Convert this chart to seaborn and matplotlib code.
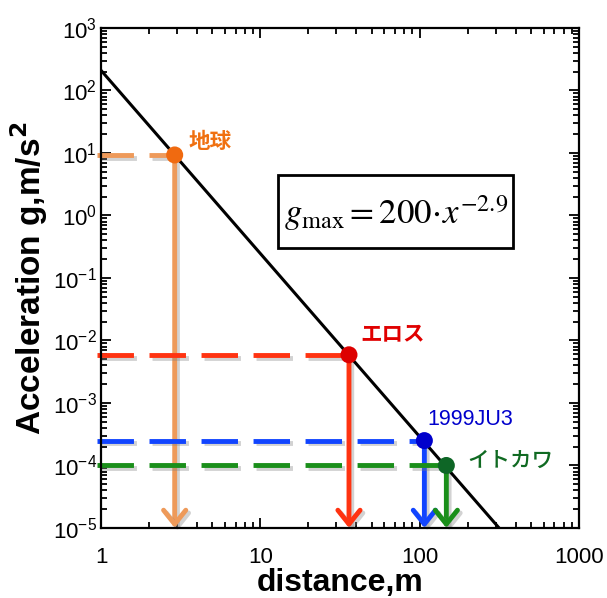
import numpy as np
import pandas as pd
import seaborn as sns
import matplotlib.pyplot as plt
import matplotlib.patheffects as pe
from matplotlib.patches import Rectangle
from matplotlib.ticker import LogLocator, FixedLocator, NullFormatter

# data
names = ['地球', 'エロス', '1999JU3', 'イトカワ']
dist = [2.9, 36, 107, 147]
accel = [9.3, 5.9e-3, 2.5e-4, 1.0e-4]
dot_colors = ['#F06A10', '#DD0000', '#0000CC', '#0E6626']
line_colors = ['#EE9A5A', '#FF3311', '#1144FF', '#1A8F1A']
label_colors = ['#F07010', '#E00000', '#0000CC', '#106A22']
label_weights = ['bold', 'bold', 'medium', 'medium']
label_offsets = [(14, 12), (11, 20), (3, 21), (21, 4)]   # pixels from the dot

# power law line end points
fit_x = [1, 315]
fit_y = [210, 1e-5]

xtick_vals = [1, 10, 100, 1000]
xtick_labels = ['1', '10', '100', '1000']
ytick_exps = list(range(-5, 4))

sns.set_style('ticks')
plt.rcParams['font.family'] = ['Liberation Sans', 'Noto Sans CJK JP', 'DejaVu Sans']
plt.rcParams['axes.unicode_minus'] = False
for k in ['text.color', 'axes.labelcolor', 'xtick.color', 'ytick.color']:
    plt.rcParams[k] = 'black'

df = pd.DataFrame({'name': names, 'x': dist, 'y': accel})

fig = plt.figure(figsize=(6.07, 5.98), dpi=100)
ax = fig.add_axes([0.1664, 0.1171, 0.7875, 0.8361])
ax.set_xscale('log')
ax.set_yscale('log')
ax.set_xlim(1, 1000)
ax.set_ylim(1e-5, 1e3)

shadow = [pe.SimpleLineShadow(offset=(2, -2), shadow_color='gray', alpha=0.35), pe.Normal()]

# fit line
sns.lineplot(x=fit_x, y=fit_y, color='black', lw=2.2, ax=ax, zorder=3)

# dashed horizontal guides and vertical arrows
for xv, yv, lc in zip(dist, accel, line_colors):
    ax.plot([0.944, xv], [yv, yv], color=lc, lw=3.5, ls=(0, (7.5, 3.2)),
            clip_on=False, zorder=2, path_effects=shadow)
    ax.annotate('', xy=(xv, 1e-5), xytext=(xv, yv),
                arrowprops=dict(arrowstyle='->,head_length=1.0,head_width=0.8',
                                color=lc, lw=3.5, shrinkA=0, shrinkB=0,
                                path_effects=shadow),
                zorder=2)

# the four bodies
sns.scatterplot(data=df, x='x', y='y', hue='name', palette=dot_colors,
                s=150, edgecolor='none', legend=False, ax=ax, zorder=5)

for nm, xv, yv, col, w, off in zip(names, dist, accel, label_colors,
                                   label_weights, label_offsets):
    ax.annotate(nm, xy=(xv, yv), xytext=off, textcoords='offset pixels',
                ha='left', va='center', fontsize=15.5, color=col, fontweight=w,
                family=['Liberation Sans', 'Noto Sans CJK JP'])

# formula box
ax.add_patch(Rectangle((0.370, 0.56), 0.492, 0.146, transform=ax.transAxes,
                       fill=False, lw=2.0, ec='black', zorder=6))
ax.text(0.618, 0.630, r'$g_{\mathrm{max}} = 200\!\cdot\! x^{-2.9}$', transform=ax.transAxes,
        ha='center', va='center', fontsize=25, math_fontfamily='stix', zorder=6)

# ticks
ax.xaxis.set_major_locator(FixedLocator(xtick_vals))
ax.set_xticklabels(xtick_labels)
ax.xaxis.set_minor_locator(LogLocator(base=10, subs=np.arange(2, 10), numticks=100))
ax.xaxis.set_minor_formatter(NullFormatter())
ax.yaxis.set_major_locator(FixedLocator([10.0 ** e for e in ytick_exps]))
ax.set_yticklabels([r'$\mathdefault{10^{%d}}$' % e for e in ytick_exps])
ax.yaxis.set_minor_locator(LogLocator(base=10, subs=np.arange(2, 10), numticks=100))
ax.yaxis.set_minor_formatter(NullFormatter())
ax.tick_params(which='both', direction='in', top=True, right=True, width=1.3, color='black')
ax.tick_params(which='major', length=7, labelsize=16)
ax.tick_params(which='minor', length=4)
ax.tick_params(axis='x', pad=14)
ax.tick_params(axis='y', pad=3)
for sp in ax.spines.values():
    sp.set_linewidth(1.6)
    sp.set_color('black')

ax.set_xlabel('distance,m', fontsize=23, fontweight='bold', labelpad=0)
ax.set_ylabel(r'Acceleration g,m/s$^\mathbf{2}$', fontsize=24, fontweight='bold', labelpad=2)

fig.savefig('out.png', dpi=100)
